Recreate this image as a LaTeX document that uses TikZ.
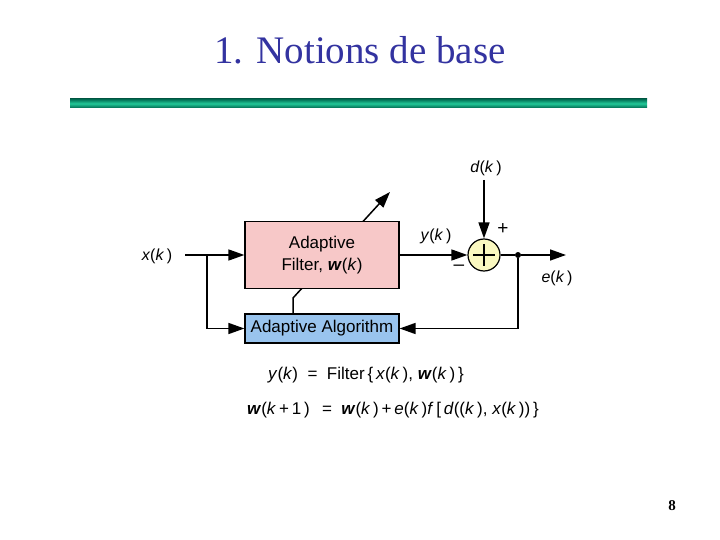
\documentclass[tikz,border=0pt]{standalone}
\usepackage{fontspec}
\setmainfont{Liberation Serif}
\newfontfamily\dsf{Liberation Sans}
\usetikzlibrary{arrows.meta,backgrounds,calc}
\definecolor{titleblue}{HTML}{3333A0}
\definecolor{pinkbox}{HTML}{F7C8C8}
\definecolor{bluebox}{HTML}{99C4EE}
\definecolor{sumyel}{HTML}{FAF8C0}
\definecolor{bardark}{HTML}{006A50}
\definecolor{barlight}{HTML}{22C898}
\newcommand{\vv}[1]{\textit{#1}}
\newcommand{\bw}{\textbf{\textit{w}}}
\begin{document}
\begin{tikzpicture}[x=1pt,y=-1pt,
  wire/.style={line width=1.5pt},
  arr/.style={wire,-{Triangle[length=16pt,width=11pt]}},
  blockbox/.style={draw=black,line width=1.2pt,minimum width=154pt,inner sep=0pt,align=center,font=\dsf\fontsize{17}{20}\selectfont},
  lbl/.style={font=\dsf\fontsize{16}{18}\selectfont,inner sep=0pt},
  sgn/.style={font=\dsf\fontsize{19}{20}\selectfont,inner sep=0pt},
  eqn/.style={font=\dsf\fontsize{17}{19}\selectfont,inner sep=0pt,anchor=west}]
\useasboundingbox (0,0) rectangle (720,540);
% title
\node[font=\fontsize{39}{44}\selectfont,text=titleblue,inner sep=0pt] (title) at (360,50) {1. Notions de base};
% bar
\shade[top color=bardark,bottom color=bardark,middle color=barlight] (70,99) rectangle (647,108);
% blocks
\node[blockbox,fill=pinkbox,minimum height=67pt] (filter) at (322,255) {Adaptive\\[2pt]Filter, \bw(\vv{k})};
\node[blockbox,fill=bluebox,minimum height=29pt] (alg) at (322,328.5) {Adaptive Algorithm};
\node[circle,draw=black,line width=1.2pt,fill=sumyel,minimum size=32pt,inner sep=0pt] (sum) at (484,255) {};
\draw[line width=2.8pt] ($(sum.center)+(-11,0)$) -- ($(sum.center)+(11,0)$);
\draw[line width=2.8pt] ($(sum.center)+(0,-11)$) -- ($(sum.center)+(0,11)$);
\node[circle,fill=black,inner sep=0pt,minimum size=6pt] (dot) at (518,255) {};
% coordinates
\coordinate (xin) at (185,255);
\coordinate (br) at (207,255);
\coordinate (dtop) at (484,180);
\coordinate (eout) at (566,255);
\coordinate (ab) at (293,314);
\coordinate (a1) at (293,298);
\coordinate (a2) at (390,192);
% adaptation arrow behind filter
\begin{scope}[on background layer]
\draw[arr,line join=miter] (ab) -- (a1) -- (a2);
\end{scope}
% labels
\node[lbl] (lx) at (157,256) {\vv{x}(\vv{k}\,)};
\node[lbl] (ly) at (436,236) {\vv{y}(\vv{k}\,)};
\node[lbl] (ld) at (486,168) {\vv{d}(\vv{k}\,)};
\node[lbl] (le) at (557,278) {\vv{e}(\vv{k}\,)};
\node[sgn] (lplus) at (503,229) {+};
\node[sgn] (lminus) at (459,268) {\textendash};
% connectors
\draw[wire] (xin) -- (br);
\draw[arr] (br) -- (filter.west);
\draw[arr] (br) |- (alg.west);
\draw[arr] (filter.east) -- (sum.west);
\draw[arr] (dtop) -- (sum.north);
\draw[wire] (sum.east) -- (dot);
\draw[arr] (dot) -- (eout);
\draw[arr] (dot) |- (alg.east);
% equations
\node[eqn] (eq1) at (268,375) {\vv{y}(\vv{k})\ \ =\ \ Filter\,\{\,\vv{x}(\vv{k}\,),\ \bw(\vv{k}\,)\,\}};
\node[eqn] (eq2) at (247,410) {\bw(\vv{k}\,+\,1\,)\ \ \,=\ \ \bw(\vv{k}\,)\,+\,\vv{e}(\vv{k}\,)\vv{f}\,[\,\vv{d}((\vv{k}\,),\ \vv{x}(\vv{k}\,))\,\}};
% page number
\node[font=\bfseries\fontsize{15}{17}\selectfont,inner sep=0pt] (pnum) at (672,506) {8};
\end{tikzpicture}
\end{document}
